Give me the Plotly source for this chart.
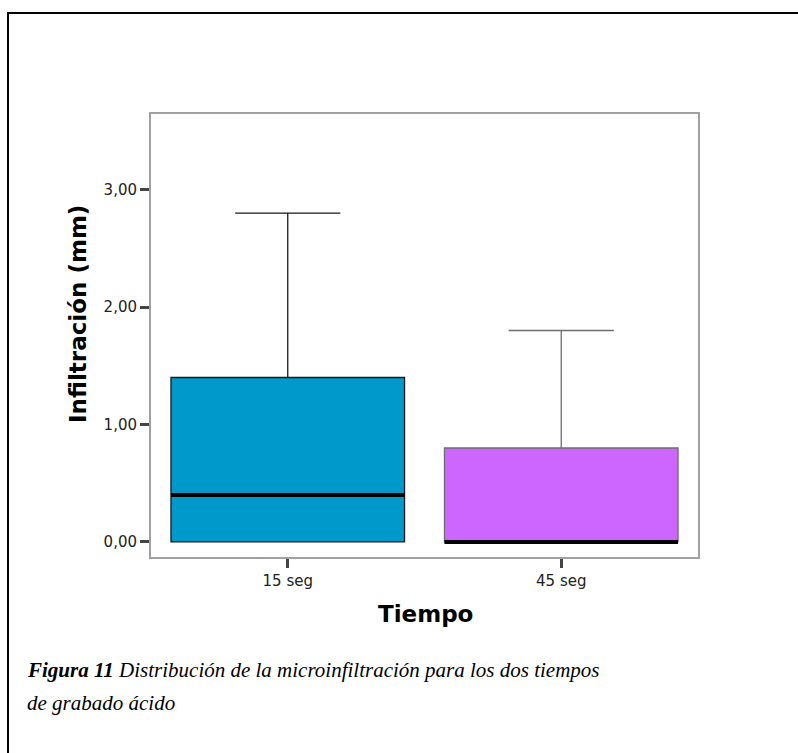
import plotly.graph_objects as go

# Microinfiltration (mm) summary per etching time
categories = ["15 seg", "45 seg"]
q1 = [0.0, 0.0]
medians = [0.40, 0.0]
q3 = [1.40, 0.80]
lower_fences = [0.0, 0.0]
upper_fences = [2.80, 1.80]
fill_colors = ["#0099cc", "#cc66ff"]
edge_colors = ["#1a1a1a", "#6e6e6e"]
y_ticks = [0, 1, 2, 3]

W, H = 798, 753
L, R, T, B = 151, 698, 114, 557
BOX_W = 0.854


def px(x):
    return (x - L) / (R - L)


def py(y):
    return (B - y) / (B - T)


fig = go.Figure()
for i, cat in enumerate(categories):
    fig.add_trace(go.Box(
        x=[cat], q1=[q1[i]], median=[medians[i]], q3=[q3[i]],
        lowerfence=[lower_fences[i]], upperfence=[upper_fences[i]],
        fillcolor=fill_colors[i],
        line=dict(color=edge_colors[i], width=1.3),
        width=BOX_W, whiskerwidth=0.45,
        boxpoints=False, showlegend=False, hoverinfo="skip",
    ))

shapes = []
# thick median bars
for i, m in enumerate(medians):
    shapes.append(dict(type="line", xref="x", yref="y",
                       x0=i - BOX_W / 2, x1=i + BOX_W / 2, y0=m, y1=m,
                       line=dict(color="black", width=4), layer="above"))
# page frame
shapes.append(dict(type="rect", xref="paper", yref="paper",
                   x0=px(8), x1=px(812), y0=py(13), y1=py(775),
                   line=dict(color="black", width=2), fillcolor="rgba(0,0,0,0)"))

annotations = [
    dict(text="<b>Infiltración (mm)</b>", xref="paper", yref="paper",
         x=px(78), y=py(314), xanchor="center", yanchor="middle",
         textangle=-90, showarrow=False,
         font=dict(family="DejaVu Sans", size=23, color="black")),
    dict(text="<b>Tiempo</b>", xref="paper", yref="paper",
         x=px(425), y=py(614), xanchor="center", yanchor="middle",
         showarrow=False,
         font=dict(family="DejaVu Sans", size=23, color="black")),
    dict(text="<b><i>Figura 11</i></b><i> Distribución de la microinfiltración para los dos tiempos</i>",
         xref="paper", yref="paper", x=px(25), y=py(670), xanchor="left",
         yanchor="middle", showarrow=False,
         font=dict(family="Liberation Serif", size=21, color="black")),
    dict(text="<i>de grabado ácido</i>",
         xref="paper", yref="paper", x=px(25), y=py(703), xanchor="left",
         yanchor="middle", showarrow=False,
         font=dict(family="Liberation Serif", size=21, color="black")),
]

fig.update_layout(
    width=W, height=H,
    margin=dict(l=L, r=W - R, t=T, b=H - B, pad=0),
    paper_bgcolor="white", plot_bgcolor="white",
    separators=",.",
    shapes=shapes, annotations=annotations,
    xaxis=dict(type="category", range=[-0.5, 1.5],
               showline=True, linecolor="#a0a0a0", linewidth=2, mirror=True,
               ticks="outside", ticklen=9, tickwidth=3, tickcolor="#444444",
               showgrid=False, zeroline=False,
               tickfont=dict(family="DejaVu Sans", size=15, color="#222222")),
    yaxis=dict(range=[-0.128, 3.643], tickvals=y_ticks, tickformat=".2f",
               showline=True, linecolor="#a0a0a0", linewidth=2, mirror=True,
               ticks="outside", ticklen=9, tickwidth=3, tickcolor="#444444",
               showgrid=False, zeroline=False,
               tickfont=dict(family="DejaVu Sans", size=15, color="#222222")),
)

fig.write_html("out.html")
